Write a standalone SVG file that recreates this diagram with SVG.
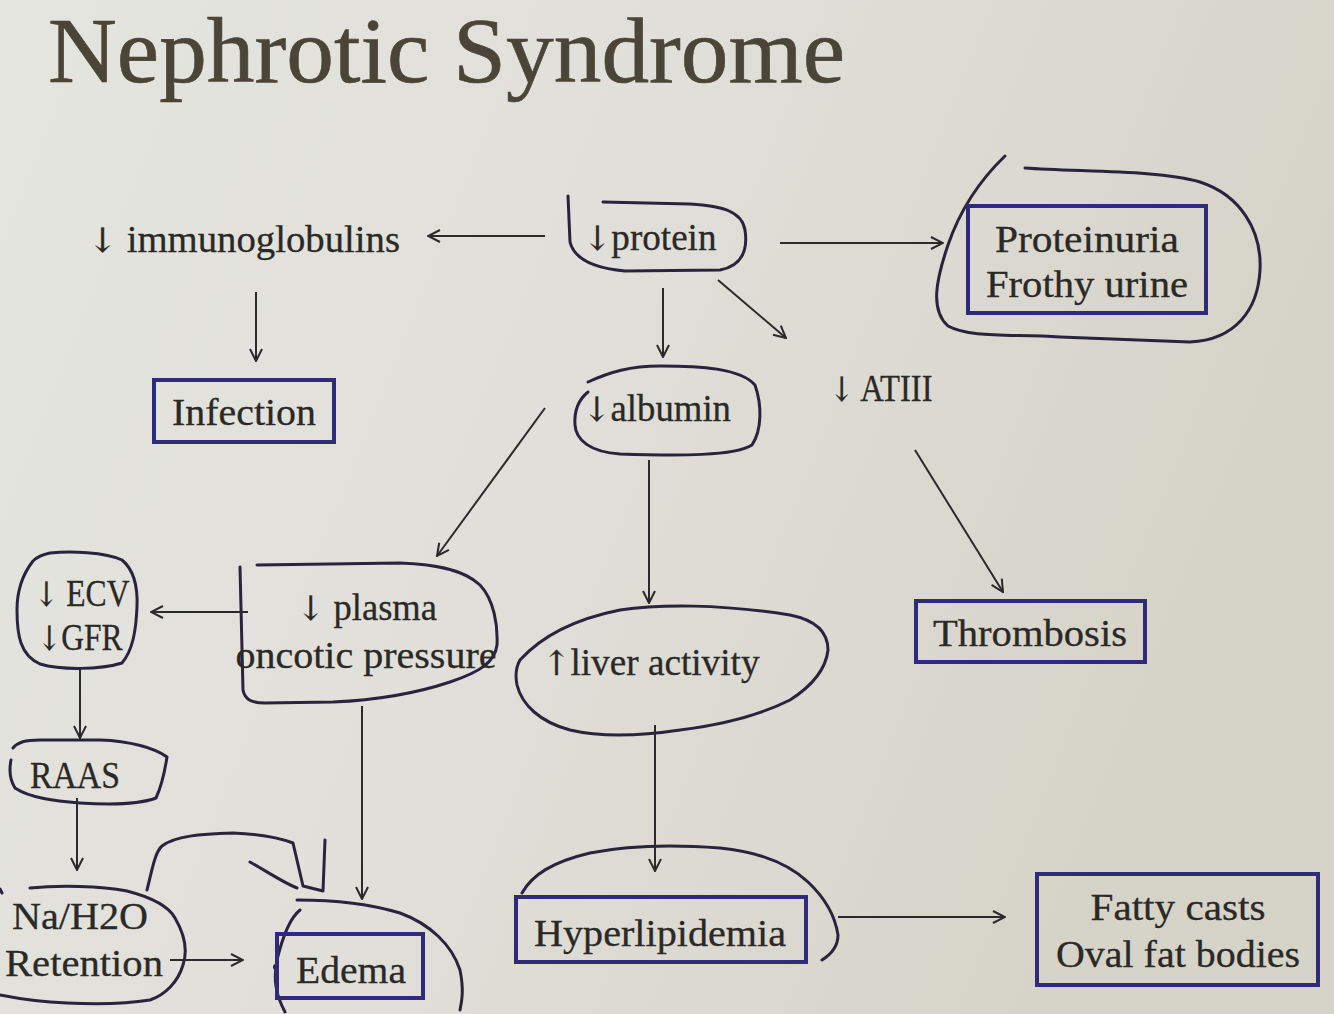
<svg xmlns="http://www.w3.org/2000/svg" width="1334" height="1014" viewBox="0 0 1334 1014">
<defs>
<linearGradient id="bg" x1="0" y1="0" x2="1" y2="0.3">
<stop offset="0" stop-color="#e5e5e0"/>
<stop offset="0.5" stop-color="#e0dfd9"/>
<stop offset="1" stop-color="#d6d3c8"/>
</linearGradient>
<marker id="ah" viewBox="0 0 14 14" refX="13" refY="7" markerWidth="14" markerHeight="14" markerUnits="userSpaceOnUse" orient="auto">
<path d="M1,1 L13,7 L1,13" fill="none" stroke="#2b2a2a" stroke-width="2"/>
</marker>
<style>
text{font-family:"Liberation Serif","DejaVu Serif",serif;font-size:38px;fill:#2a2926;text-anchor:middle;stroke:#2a2926;stroke-width:0.3}
.title{font-size:94px;fill:#4a4537;stroke:#4a4537;stroke-width:0.6;text-anchor:start}
.ar{font-family:"DejaVu Serif",serif;font-size:34px}
.box{fill:none;stroke:#2f2a7c;stroke-width:4}
.hand{fill:none;stroke:#29243d;stroke-width:3;stroke-linecap:round;stroke-linejoin:round}
.conn line{stroke:#2b2a2a;stroke-width:2;marker-end:url(#ah)}
</style>
</defs>
<rect width="1334" height="1014" fill="url(#bg)"/>
<text class="title" x="48" y="82" textLength="797" lengthAdjust="spacingAndGlyphs">Nephrotic Syndrome</text>

<g id="immunoglobulins"><text x="244" y="252" textLength="312" lengthAdjust="spacingAndGlyphs"><tspan class="ar">↓</tspan> immunoglobulins</text></g>
<g id="infection"><rect class="box" x="154" y="380" width="180" height="62"/><text x="244" y="425" textLength="144" lengthAdjust="spacingAndGlyphs">Infection</text></g>
<g id="protein"><path class="hand" d="M568,196 L570,242 C574,258 592,268 625,271 L720,270 C742,266 748,250 745,230 C742,212 724,206 690,204 L603,202"/><text x="650" y="250" textLength="133" lengthAdjust="spacingAndGlyphs"><tspan class="ar">↓</tspan>protein</text></g>
<g id="proteinuria"><path class="hand" d="M1005,156 C980,180 960,210 948,245 C936,280 930,310 948,326 C970,338 1010,334 1060,337 L1190,342 C1235,340 1258,310 1260,270 C1262,230 1240,195 1200,182 C1160,170 1080,172 1025,168"/><rect class="box" x="968" y="206" width="238" height="107"/><text x="1087" y="252" textLength="184" lengthAdjust="spacingAndGlyphs">Proteinuria</text><text x="1087" y="297" textLength="202" lengthAdjust="spacingAndGlyphs">Frothy urine</text></g>
<g id="albumin"><path class="hand" d="M588,382 C610,372 630,366 660,366 C700,366 740,368 755,385 C762,405 762,430 752,445 C735,456 680,456 620,454 C590,452 576,440 575,425 C574,410 578,400 588,392"/><text x="657" y="421" textLength="148" lengthAdjust="spacingAndGlyphs"><tspan class="ar">↓</tspan>albumin</text></g>
<g id="atiii"><text x="881" y="401" textLength="103" lengthAdjust="spacingAndGlyphs"><tspan class="ar">↓</tspan> ATIII</text></g>
<g id="thrombosis"><rect class="box" x="916" y="601" width="229" height="61"/><text x="1030" y="646" textLength="194" lengthAdjust="spacingAndGlyphs">Thrombosis</text></g>
<g id="plasma"><path class="hand" d="M240,567 L243,690 C245,700 252,703 265,703 L333,702 C380,700 420,692 450,682 C480,672 495,662 497,645 C498,625 494,600 480,585 C462,568 430,564 400,563 L257,565"/><text x="367" y="620" textLength="140" lengthAdjust="spacingAndGlyphs"><tspan class="ar">↓</tspan> plasma</text><text x="366" y="668" textLength="261" lengthAdjust="spacingAndGlyphs">oncotic pressure</text></g>
<g id="ecv"><path class="hand" d="M33,561 C22,575 17,592 17,610 C17,635 20,655 40,664 C60,670 100,670 122,663 C133,650 136,630 137,607 C138,585 134,570 122,560 C105,552 70,551 50,553 C40,555 36,558 33,561"/><text x="82" y="606" textLength="95" lengthAdjust="spacingAndGlyphs"><tspan class="ar">↓</tspan> ECV</text><text x="80" y="650" textLength="85" lengthAdjust="spacingAndGlyphs"><tspan class="ar">↓</tspan>GFR</text></g>
<g id="raas"><path class="hand" d="M13,748 C18,742 25,740 40,740 L100,740 C130,741 155,748 167,757 C165,770 162,785 156,798 C140,804 110,805 80,803 C55,801 30,798 15,788 C10,780 9,770 11,760"/><text x="75" y="788" textLength="90" lengthAdjust="spacingAndGlyphs">RAAS</text></g>
<g id="retention"><path class="hand" d="M30,888 C60,885 100,886 127,891 C150,897 168,905 175,918 C185,935 188,950 183,965 C178,982 165,995 150,1000 C120,1005 90,1004 67,1003 C40,1002 15,998 0,995"/><path class="hand" d="M0,889 L2,893"/><text x="80" y="929" textLength="136" lengthAdjust="spacingAndGlyphs">Na/H2O</text><text x="84" y="976" textLength="158" lengthAdjust="spacingAndGlyphs">Retention</text></g>
<g id="squiggle"><path class="hand" d="M147,890 C152,870 155,852 162,846 C175,836 200,834 233,833 C260,834 280,838 293,843 L303,886 L323,891 L325,840"/><path class="hand" d="M250,862 C268,872 282,882 297,888"/></g>
<g id="edema"><path class="hand" d="M297,900 C330,900 370,904 400,913 C430,924 452,945 460,970 C464,990 462,1000 460,1010"/><path class="hand" d="M300,910 C290,918 283,935 277,960 C273,980 276,995 285,1012"/><circle cx="276" cy="967" r="3" fill="#29243d"/><rect class="box" x="277" y="934" width="146" height="64"/><text x="351" y="983" textLength="110" lengthAdjust="spacingAndGlyphs">Edema</text></g>
<g id="liver"><path class="hand" d="M520,660 C540,638 570,620 620,610 C660,604 720,604 790,615 C815,620 828,632 828,650 C826,668 815,684 790,700 C760,715 720,725 680,730 C640,736 600,737 570,730 C540,722 522,705 517,685 C515,675 516,667 520,660"/><text x="651" y="675" textLength="217" lengthAdjust="spacingAndGlyphs"><tspan class="ar">↑</tspan>liver activity</text></g>
<g id="hyperlipidemia"><path class="hand" d="M522,893 C532,875 552,862 590,853 C630,845 680,845 720,848 C760,852 790,865 808,882 C825,898 835,915 838,935 C838,948 830,955 822,960"/><rect class="box" x="516" y="897" width="290" height="65"/><text x="660" y="946" textLength="252" lengthAdjust="spacingAndGlyphs">Hyperlipidemia</text></g>
<g id="fatty"><rect class="box" x="1037" y="874" width="281" height="111"/><text x="1178" y="920" textLength="175" lengthAdjust="spacingAndGlyphs">Fatty casts</text><text x="1178" y="967" textLength="244" lengthAdjust="spacingAndGlyphs">Oval fat bodies</text></g>

<g id="connectors" class="conn">
<line x1="545" y1="236" x2="428" y2="236"/>
<line x1="256" y1="292" x2="256" y2="361"/>
<line x1="780" y1="243" x2="943" y2="243"/>
<line x1="663" y1="288" x2="663" y2="357"/>
<line x1="718" y1="280" x2="786" y2="338"/>
<line x1="545" y1="408" x2="437" y2="556"/>
<line x1="649" y1="460" x2="649" y2="603"/>
<line x1="915" y1="450" x2="1003" y2="592"/>
<line x1="248" y1="612" x2="151" y2="612"/>
<line x1="80" y1="668" x2="80" y2="738"/>
<line x1="77" y1="798" x2="77" y2="870"/>
<line x1="170" y1="960" x2="243" y2="960"/>
<line x1="362" y1="706" x2="362" y2="899"/>
<line x1="655" y1="725" x2="655" y2="871"/>
<line x1="838" y1="917" x2="1005" y2="917"/>
</g>
</svg>
